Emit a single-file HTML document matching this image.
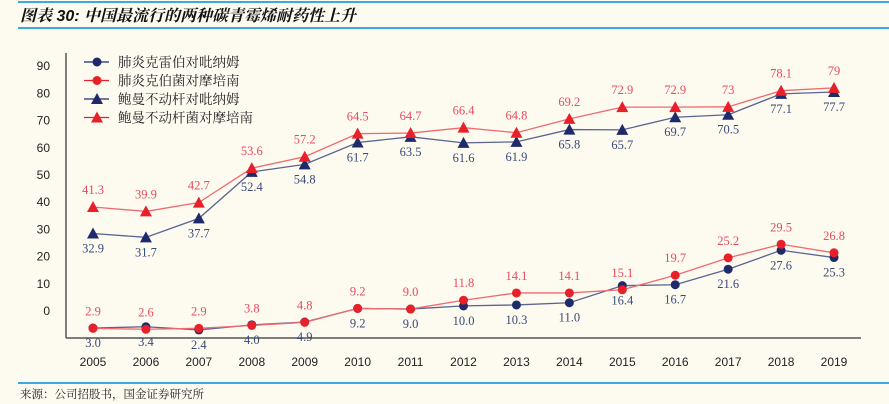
<!DOCTYPE html>
<html><head><meta charset="utf-8"><style>
body{margin:0;background:#fdfaf0;}
svg{display:block;font-family:"Liberation Sans","Noto Sans CJK SC",sans-serif;}
</style></head><body>
<svg id="c" width="889" height="404" viewBox="0 0 889 404">
<rect x="0" y="0" width="889" height="404" fill="#fdfaf0"/>
<line x1="18" y1="2" x2="889" y2="2" stroke="#3ca8e0" stroke-width="2"/>
<text x="20" y="21" font-size="16" font-style="italic" font-weight="bold" fill="#111" font-family="Liberation Sans,Noto Serif CJK SC,serif">图表 30:  中国最流行的两种碳青霉烯耐药性上升</text>
<line x1="18" y1="28" x2="889" y2="28" stroke="#3ca8e0" stroke-width="2"/>
<line x1="18" y1="383" x2="889" y2="383" stroke="#3ca8e0" stroke-width="2"/>
<text x="20" y="398" font-size="11.5" fill="#222" font-family="Liberation Serif,Noto Serif CJK SC,serif">来源：公司招股书，国金证券研究所</text>
<line x1="66" y1="53" x2="66" y2="338" stroke="#555" stroke-width="1.5"/>
<line x1="66" y1="338" x2="861" y2="338" stroke="#555" stroke-width="1.5"/>
<g id="ticks"></g><g id="series"></g><g id="legend"></g>
</svg>
<script>
const years=["2005","2006","2007","2008","2009","2010","2011","2012","2013","2014","2015","2016","2017","2018","2019"];
const yTicks=[0,10,20,30,40,50,60,70,80,90];
const feiBlue=[3.0,3.4,2.4,4.0,4.9,9.2,9.0,10.0,10.3,11.0,16.4,16.7,21.6,27.6,25.3];
const feiRed=[2.9,2.6,2.9,3.8,4.8,9.2,9.0,11.8,14.1,14.1,15.1,19.7,25.2,29.5,26.8];
const baoBlue=[32.9,31.7,37.7,52.4,54.8,61.7,63.5,61.6,61.9,65.8,65.7,69.7,70.5,77.1,77.7];
const baoRed=[41.3,39.9,42.7,53.6,57.2,64.5,64.7,66.4,64.8,69.2,72.9,72.9,73,78.1,79];
const names=["肺炎克雷伯对吡纳姆","肺炎克伯菌对摩培南","鲍曼不动杆对吡纳姆","鲍曼不动杆菌对摩培南"];
const NS="http://www.w3.org/2000/svg";
function x(i){return 93+i*52.93;}
function y(v){return 337.5-3.16*v;}
function tickY(t){return 311-t*2.72;}
function mk(tag,a,p){const e=document.createElementNS(NS,tag);for(const k in a)e.setAttribute(k,a[k]);p.appendChild(e);return e;}
const T=document.getElementById('ticks'),S=document.getElementById('series'),L=document.getElementById('legend');
yTicks.forEach(t=>{const e=mk('text',{x:50,y:tickY(t)+4,'font-size':12,fill:'#222','text-anchor':'end'},T);e.textContent=t;

});
years.forEach((yr,i)=>{const e=mk('text',{x:x(i),y:366,'font-size':12,fill:'#222','text-anchor':'middle'},T);e.textContent=yr;

});
const series=[
 {d:baoBlue,c:'#1f2a6b',lc:'#5a6490',tc:'#3a4a7a',m:'tri',above:false,n:'bao-blue'},
 {d:baoRed,c:'#e8202a',lc:'#ee6a70',tc:'#e84a5f',m:'tri',above:true,n:'bao-red'},
 {d:feiBlue,c:'#1f2a6b',lc:'#5a6490',tc:'#3a4a7a',m:'dot',above:false,n:'fei-blue'},
 {d:feiRed,c:'#e8202a',lc:'#ee6a70',tc:'#e84a5f',m:'dot',above:true,n:'fei-red'}];
function marker(m,cx,cy,c,p){let e;if(m==='dot')e=mk('circle',{cx:cx,cy:cy,r:4.5,fill:c},p);
else e=mk('polygon',{points:`${cx},${cy-6} ${cx-6},${cy+5} ${cx+6},${cy+5}`,fill:c},p);return e;}
series.forEach(s=>{
 const pl=mk('polyline',{points:s.d.map((v,i)=>x(i)+','+y(v)).join(' '),fill:'none',stroke:s.lc,'stroke-width':1.3},S);
 
 
 s.d.forEach((v,i)=>{const e=marker(s.m,x(i),y(v),s.c,S);
  
  
  const t=mk('text',{x:x(i),y:s.above?y(v)-13:y(v)+19,'font-size':12.5,fill:s.tc,'text-anchor':'middle','font-family':'Liberation Serif,serif'},S);
  t.textContent=v.toFixed(1).replace(/^73\.0$/,'73').replace(/^79\.0$/,'79');
  
  });
});
const lg=[{c:'#1f2a6b',m:'dot'},{c:'#e8202a',m:'dot'},{c:'#1f2a6b',m:'tri'},{c:'#e8202a',m:'tri'}];
lg.forEach((g,i)=>{const yy=62+i*18.5;
 const ln=mk('line',{x1:84,y1:yy,x2:109,y2:yy,stroke:g.c,'stroke-width':1.3},L);
 
 
 const m=marker(g.m,97,yy,g.c,L);
 
 
 const t=mk('text',{x:118,y:yy+5,'font-size':13.5,fill:'#222','font-family':'Liberation Serif,Noto Serif CJK SC,serif'},L);t.textContent=names[i];
 
 });
</script>
</body></html>
